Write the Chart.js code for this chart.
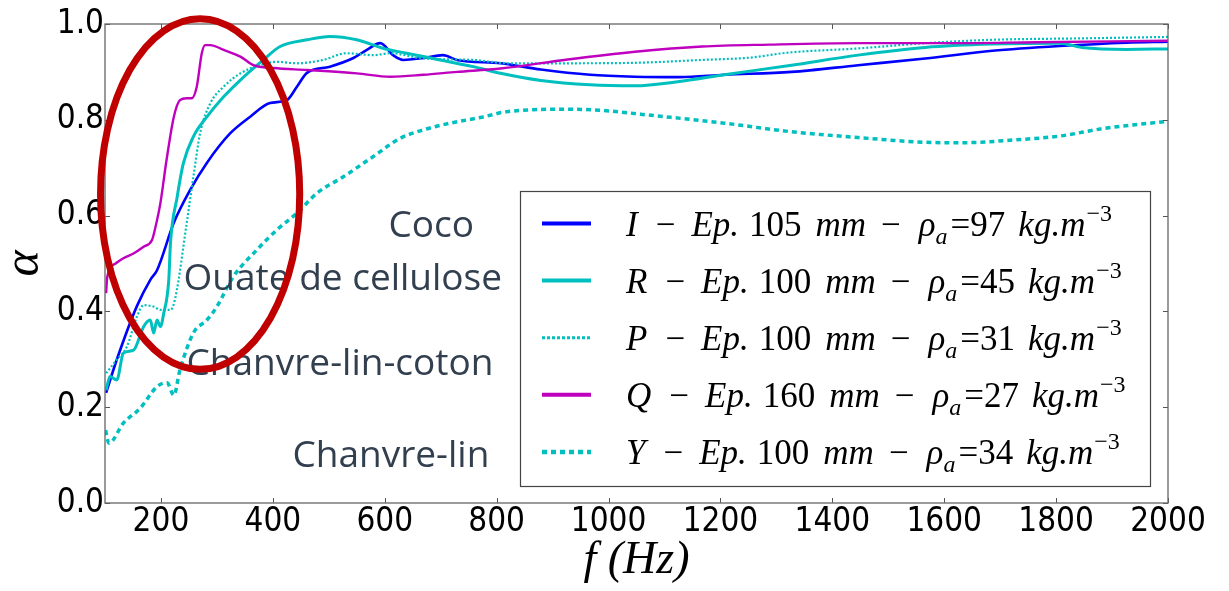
<!DOCTYPE html>
<html><head><meta charset="utf-8">
<script src="https://cdn.jsdelivr.net/npm/chart.js@4.4.1/dist/chart.umd.min.js"></script>
<style>html,body{margin:0;padding:0;background:#fff}canvas{display:block}</style>
</head><body>
<canvas id="c" width="1229" height="591"></canvas>
<script>
// ---------- data ----------
const xTickValues = [200, 400, 600, 800, 1000, 1200, 1400, 1600, 1800, 2000];
const yTickValues = [0.0, 0.2, 0.4, 0.6, 0.8, 1.0];

const seriesNames = ['I', 'R', 'P', 'Q', 'Y'];
const thicknessMm = [105, 100, 100, 160, 100];
const densityKg = [97, 45, 31, 27, 34];

const I_f = [102,121,157,181,193,223,252,282,324,359,395,425,443,461,502,544,568,592,615,633,669,704,729,807,879,967,1047,1127,1207,1327,1446,1566,1686,1806,1926,2000];
const I_alpha = [0.230,0.299,0.411,0.466,0.486,0.585,0.653,0.710,0.772,0.806,0.835,0.841,0.869,0.898,0.911,0.929,0.946,0.960,0.935,0.925,0.929,0.935,0.925,0.918,0.905,0.894,0.890,0.889,0.894,0.900,0.914,0.928,0.944,0.954,0.961,0.963];

const R_f = [102,109,121,133,151,169,181,187,193,199,205,214,217,229,240,258,282,312,342,383,413,461,502,550,598,639,699,758,807,879,967,1047,1127,1207,1327,1446,1566,1686,1806,1846,1926,2000];
const R_alpha = [0.236,0.264,0.257,0.313,0.319,0.368,0.382,0.355,0.382,0.368,0.396,0.466,0.542,0.639,0.709,0.765,0.806,0.848,0.883,0.925,0.953,0.967,0.974,0.967,0.949,0.939,0.925,0.911,0.897,0.882,0.873,0.871,0.880,0.894,0.914,0.935,0.951,0.958,0.960,0.951,0.947,0.948];

const P_f = [102,121,139,157,169,187,199,217,226,246,258,270,288,312,342,377,407,443,490,532,580,610,669,758,818,927,1047,1167,1255,1319,1446,1566,1686,1846,2000];
const P_alpha = [0.271,0.299,0.326,0.389,0.413,0.410,0.403,0.403,0.430,0.584,0.681,0.772,0.834,0.869,0.897,0.914,0.921,0.918,0.925,0.939,0.935,0.939,0.928,0.925,0.918,0.918,0.919,0.925,0.930,0.940,0.949,0.960,0.967,0.970,0.973];

const Q_f = [102,104,119,133,151,169,184,189,199,210,223,234,246,255,264,273,279,288,312,342,365,401,461,550,610,669,729,807,927,1047,1167,1287,1446,1606,1766,2000];
const Q_alpha = [0.438,0.472,0.500,0.511,0.521,0.535,0.549,0.570,0.626,0.716,0.806,0.841,0.845,0.845,0.869,0.939,0.956,0.956,0.946,0.932,0.914,0.908,0.904,0.897,0.890,0.894,0.900,0.907,0.926,0.942,0.953,0.957,0.960,0.960,0.962,0.965];

const Y_f = [101,107,133,163,193,211,223,234,258,282,300,329,371,407,443,479,526,579,627,669,717,776,818,927,983,1087,1207,1327,1446,1566,1630,1726,1806,1886,2000];
const Y_alpha = [0.152,0.125,0.167,0.198,0.243,0.251,0.225,0.278,0.355,0.382,0.410,0.472,0.528,0.570,0.605,0.647,0.681,0.723,0.761,0.779,0.793,0.806,0.817,0.822,0.820,0.808,0.793,0.775,0.763,0.753,0.752,0.758,0.766,0.782,0.797];

const annotationTexts = ['Coco', 'Ouate de cellulose', 'Chanvre-lin-coton', 'Chanvre-lin'];

// ---------- chart ----------
const seriesF = [I_f, R_f, P_f, Q_f, Y_f];
const seriesA = [I_alpha, R_alpha, P_alpha, Q_alpha, Y_alpha];
const styles = [
  {color:'#0000ff', width:2.6, dash:[]},
  {color:'#00bfbf', width:3, dash:[]},
  {color:'#00bfbf', width:2.2, dash:[2,2]},
  {color:'#bf00bf', width:2.4, dash:[]},
  {color:'#00bfbf', width:3.5, dash:[5,4]}
];
const legendSample = [
  {width:4, dash:[]}, {width:4, dash:[]}, {width:3, dash:[3,2]}, {width:4, dash:[]}, {width:4.5, dash:[5,4]}
];
const tickFont = '"DejaVu Sans Condensed", "DejaVu Sans", sans-serif';

const datasets = seriesNames.map((n, i) => ({
  label: n + ' − Ep. ' + thicknessMm[i] + ' mm − ρa =' + densityKg[i] + ' kg.m−3',
  data: seriesF[i].map((f, k) => ({x: f, y: seriesA[i][k]})),
  borderColor: styles[i].color,
  borderWidth: styles[i].width,
  borderDash: styles[i].dash,
  pointRadius: 0,
  fill: false,
  cubicInterpolationMode: 'monotone',
  order: seriesNames.length - i
}));

function legendTokens(i) {
  return [
    {t: seriesNames[i], it: true, gap: 0},
    {t: '−', gap: 18},
    {t: 'Ep.', it: true, gap: 16},
    {t: String(thicknessMm[i]), gap: 10},
    {t: 'mm', it: true, gap: 14},
    {t: '−', gap: 15},
    {t: 'ρ', it: true, gap: 18},
    {t: 'a', it: true, pos: 'sub', gap: 0},
    {t: '=' + densityKg[i], gap: 3},
    {t: 'kg.m', it: true, gap: 13},
    {t: '−3', pos: 'sup', gap: 1}
  ];
}

const framePlugin = {
  id: 'frame',
  afterDatasetsDraw(chart) {
    const {ctx, chartArea: a, scales: {x, y}} = chart;
    ctx.save();
    // inward ticks
    ctx.strokeStyle = '#555';
    ctx.lineWidth = 1;
    ctx.beginPath();
    x.ticks.forEach(t => {
      const px = Math.round(x.getPixelForValue(t.value)) + 0.5;
      ctx.moveTo(px, a.bottom); ctx.lineTo(px, a.bottom - 5);
      ctx.moveTo(px, a.top); ctx.lineTo(px, a.top + 5);
    });
    y.ticks.forEach(t => {
      const py = Math.round(y.getPixelForValue(t.value)) + 0.5;
      ctx.moveTo(a.left, py); ctx.lineTo(a.left + 5, py);
      ctx.moveTo(a.right, py); ctx.lineTo(a.right - 5, py);
    });
    ctx.stroke();
    // spines
    ctx.strokeStyle = '#666';
    ctx.lineWidth = 1.3;
    ctx.strokeRect(a.left, a.top, a.right - a.left, a.bottom - a.top);

    // legend box
    const bx = 520, by = 191, bw = 630, bh = 295;
    ctx.fillStyle = '#fff';
    ctx.fillRect(bx, by, bw, bh);
    ctx.strokeStyle = '#444';
    ctx.lineWidth = 1.2;
    ctx.strokeRect(bx + 0.5, by + 0.5, bw, bh);
    const rowY0 = 223.5, rowStep = 57.1;
    chart.data.datasets.forEach((ds, i) => {
      const ry = rowY0 + i * rowStep;
      ctx.strokeStyle = ds.borderColor;
      ctx.lineWidth = legendSample[i].width;
      ctx.setLineDash(legendSample[i].dash);
      ctx.beginPath();
      ctx.moveTo(542, ry); ctx.lineTo(591, ry);
      ctx.stroke();
      ctx.setLineDash([]);
      // rich text
      let xx = 626;
      const base = ry + 12;
      ctx.fillStyle = '#000';
      ctx.textBaseline = 'alphabetic';
      ctx.textAlign = 'left';
      legendTokens(i).forEach(tk => {
        xx += tk.gap;
        const size = tk.pos ? 24 : 35;
        ctx.font = (tk.it ? 'italic ' : '') + size + 'px "Liberation Serif"';
        const dy = tk.pos === 'sub' ? 8 : (tk.pos === 'sup' ? -15 : 0);
        ctx.fillText(tk.t, xx, base + dy);
        xx += ctx.measureText(tk.t).width;
      });
    });
    ctx.restore();
  },
  afterDraw(chart) {
    const {ctx, scales: {x, y}} = chart;
    ctx.save();
    // annotation labels (data coordinates: Hz, alpha baseline)
    const spots = [[683, 0.555], [525, 0.445], [520, 0.267], [611, 0.075]];
    ctx.fillStyle = '#323f4f';
    ctx.font = '37px "Open Sans"';
    ctx.textAlign = 'center';
    ctx.textBaseline = 'alphabetic';
    annotationTexts.forEach((t, i) => {
      ctx.fillText(t, x.getPixelForValue(spots[i][0]), y.getPixelForValue(spots[i][1]));
    });
    // red ellipse highlighting the low-frequency region
    const cx = x.getPixelForValue(270), cy = y.getPixelForValue(0.645);
    const rx = x.getPixelForValue(270 + 178) - cx;
    const ry = cy - y.getPixelForValue(0.645 + 0.366);
    ctx.strokeStyle = '#c00000';
    ctx.lineWidth = 7;
    ctx.beginPath();
    ctx.ellipse(cx, cy, rx, ry, 0, 0, Math.PI * 2);
    ctx.stroke();
    ctx.restore();
  }
};

new Chart(document.getElementById('c'), {
  type: 'line',
  data: {datasets},
  options: {
    responsive: false,
    devicePixelRatio: 1,
    animation: false,
    layout: {padding: {top: 24, right: 61, left: 0, bottom: 0}},
    plugins: {legend: {display: false}, tooltip: {enabled: false}},
    scales: {
      x: {
        type: 'linear', min: 100, max: 2000,
        afterBuildTicks: s => { s.ticks = xTickValues.map(v => ({value: v})); },
        afterFit: s => { s.height = 88; },
        grid: {display: false, drawTicks: false},
        border: {display: false},
        ticks: {padding: 0, color: '#000', font: {family: tickFont, size: 33}, maxRotation: 0, autoSkip: false, callback: v => String(v)},
        title: {display: true, text: 'f (Hz)', color: '#000', font: {family: '"Liberation Serif"', style: 'italic', size: 46, lineHeight: 1.2}, padding: {top: 0, bottom: 2}}
      },
      y: {
        type: 'linear', min: 0, max: 1,
        afterBuildTicks: s => { s.ticks = yTickValues.map(v => ({value: v})); },
        afterFit: s => { s.width = 105; },
        grid: {display: false, drawTicks: false},
        border: {display: false},
        ticks: {padding: 1, color: '#000', font: {family: tickFont, size: 33}, autoSkip: false, callback: v => v.toFixed(1)},
        title: {display: true, text: 'α', color: '#000', font: {family: '"Liberation Serif"', style: 'italic', size: 50, lineHeight: 1.0}, padding: {top: 0, bottom: 0}}
      }
    }
  },
  plugins: [framePlugin]
});
</script>
</body></html>
